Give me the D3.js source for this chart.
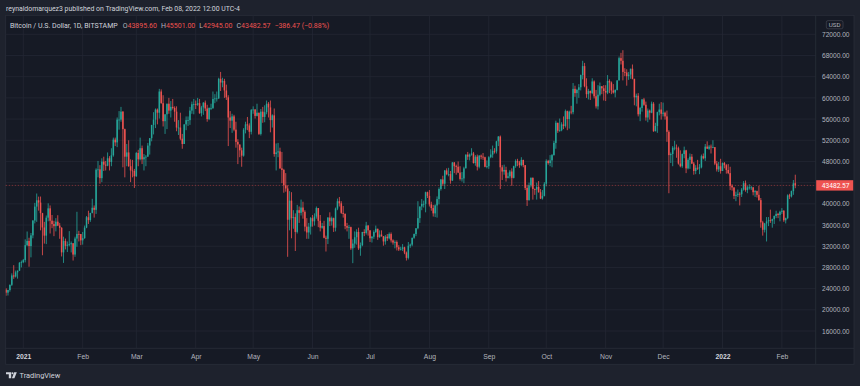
<!DOCTYPE html>
<html lang="en">
<head>
<meta charset="UTF-8">
<title>btcusd-1d</title>
<script src="https://cdn.jsdelivr.net/npm/d3@7"></script>
<style>
  body { margin: 0; background: #1e222d; }
  svg { display: block; font-family: Roboto, "Noto Sans", sans-serif; }
</style>
</head>
<body>
<script>
// daily bars from 2020-12-23 to 2022-02-08, prices in thousands of USD
const startDay = Date.UTC(2020, 11, 23);
const firstOpen = 23.82;
const closes = [
  23.24, 23.73, 24.71, 26.49, 26.28, 27.08, 27.39, 28.89, 28.99,
  29.38, 32.20, 33.00, 32.03, 34.05, 36.86, 39.48, 40.67, 40.24, 38.24, 35.54, 34.00, 37.39, 39.15, 36.82, 36.18, 35.79, 36.63, 35.90, 35.47, 30.84, 33.00, 32.08, 32.28, 32.37, 32.57, 30.43, 33.45, 34.32, 34.30, 33.11,
  33.53, 35.51, 37.47, 36.93, 38.29, 39.26, 38.87, 46.44, 46.50, 44.85, 47.97, 47.40, 47.20, 48.60, 47.90, 49.15, 52.12, 51.60, 55.90, 55.90, 57.40, 54.10, 48.90, 49.70, 47.10, 46.30, 46.20, 45.20,
  49.60, 48.40, 50.50, 48.40, 48.80, 48.90, 51.00, 52.40, 54.90, 55.90, 57.80, 57.20, 61.20, 59.00, 55.60, 56.90, 58.90, 57.60, 58.30, 58.10, 57.40, 54.40, 54.40, 52.30, 51.30, 55.00, 55.80, 55.80, 57.60, 58.80, 58.80,
  58.70, 59.00, 57.10, 58.20, 59.10, 58.00, 56.00, 58.10, 58.10, 59.80, 59.90, 59.90, 63.60, 62.90, 63.20, 61.40, 60.10, 56.30, 55.70, 56.50, 54.00, 51.70, 51.20, 50.10, 49.10, 54.00, 55.00, 54.80, 53.60, 57.70,
  57.80, 56.60, 57.20, 53.20, 57.40, 56.40, 57.30, 58.90, 58.20, 55.80, 56.70, 49.40, 49.70, 49.90, 46.70, 46.40, 43.50, 42.90, 37.00, 40.60, 37.30, 37.50, 34.70, 38.80, 38.30, 39.30, 38.50, 35.70, 34.60, 35.70, 37.30,
  36.70, 37.60, 39.20, 36.80, 35.50, 35.80, 33.60, 33.40, 37.40, 36.70, 37.30, 35.50, 39.10, 40.50, 40.10, 38.30, 38.10, 35.80, 35.50, 35.60, 31.60, 32.50, 33.70, 34.70, 31.60, 32.20, 34.70, 34.50, 35.90, 35.00,
  33.50, 33.80, 34.70, 35.30, 33.70, 34.20, 33.90, 32.90, 33.80, 33.50, 34.30, 33.10, 32.70, 32.80, 31.80, 31.40, 31.50, 31.80, 30.80, 29.80, 32.10, 32.30, 33.60, 34.30, 35.40, 37.30, 39.50, 40.00, 40.00, 42.20, 41.50,
  39.90, 39.20, 38.20, 39.70, 40.90, 42.80, 44.60, 43.80, 46.30, 45.60, 45.60, 44.40, 47.80, 47.10, 47.00, 45.90, 44.70, 44.80, 46.70, 49.30, 48.90, 49.30, 49.50, 47.70, 48.90, 47.00, 49.10, 48.90, 48.80, 47.00, 47.10,
  48.80, 49.30, 50.00, 49.90, 51.80, 52.70, 46.90, 46.10, 46.40, 44.90, 45.20, 46.10, 44.90, 47.10, 48.10, 47.80, 47.30, 48.30, 47.30, 43.00, 40.70, 43.50, 44.90, 42.80, 42.70, 43.20, 42.20, 41.00, 41.50, 43.80,
  48.10, 47.70, 48.20, 49.20, 51.50, 55.30, 53.80, 53.90, 55.00, 54.70, 57.50, 56.00, 57.40, 57.30, 61.70, 60.90, 61.50, 62.00, 64.30, 66.00, 62.20, 60.70, 61.30, 60.90, 63.10, 60.30, 58.40, 60.60, 62.20, 61.80, 61.30,
  61.00, 63.20, 62.90, 61.40, 61.00, 61.50, 63.30, 67.50, 67.00, 64.90, 64.80, 64.10, 64.40, 65.50, 63.60, 60.10, 60.40, 56.90, 58.10, 59.70, 58.70, 56.30, 57.60, 57.20, 58.90, 53.70, 54.70, 57.30, 57.80, 57.00,
  57.20, 56.50, 53.60, 49.20, 49.40, 50.60, 50.60, 50.50, 47.60, 47.10, 49.40, 50.10, 46.70, 48.30, 48.90, 47.60, 46.20, 46.80, 46.70, 46.90, 49.00, 48.60, 50.80, 50.40, 50.80, 50.70, 50.70, 47.60, 46.50, 47.10, 46.20,
  47.70, 47.30, 46.40, 45.80, 43.40, 43.10, 41.50, 41.70, 41.90, 41.80, 42.70, 43.90, 42.60, 43.10, 43.10, 43.10, 42.20, 42.40, 41.70, 40.70, 36.50, 35.10, 36.30, 36.70, 36.90, 36.80, 37.10, 37.70, 38.10, 37.90, 38.50,
  38.70, 36.90, 37.30, 41.60, 41.40, 42.40, 43.86904, 43.48257
];
const highs = [
  24.10, 23.79, 24.78, 26.88, 28.42, 27.41, 27.42, 28.99, 29.30,
  29.60, 33.30, 34.78, 33.60, 34.50, 36.90, 40.18, 41.95, 41.36, 41.38, 38.30, 36.60, 37.80, 40.10, 39.70, 37.90, 36.80, 37.30, 37.85, 36.40, 35.60, 33.80, 33.45, 32.90, 34.85, 32.90, 32.56, 33.80, 38.50, 34.90, 34.30,
  34.70, 35.90, 37.70, 38.70, 38.30, 40.95, 39.70, 46.70, 48.10, 47.30, 48.60, 48.90, 48.10, 49.70, 49.00, 50.50, 52.50, 52.50, 56.30, 57.50, 58.30, 57.50, 54.20, 51.30, 52.00, 48.40, 48.30, 46.60,
  49.80, 50.20, 52.50, 51.00, 49.40, 49.20, 51.50, 52.40, 54.90, 57.30, 58.00, 58.00, 61.70, 61.60, 60.50, 56.90, 58.90, 60.00, 59.40, 59.80, 58.40, 58.40, 55.80, 57.20, 53.20, 55.00, 56.50, 56.50, 58.30, 59.30, 59.80,
  59.50, 60.00, 59.80, 58.50, 59.20, 59.50, 58.70, 58.20, 58.90, 61.20, 60.70, 61.20, 63.80, 64.90, 63.80, 63.60, 62.50, 60.50, 57.50, 57.00, 56.80, 55.50, 52.20, 51.20, 50.60, 54.30, 55.50, 56.40, 55.20, 57.90,
  58.40, 57.90, 58.90, 57.20, 57.90, 58.30, 58.60, 59.50, 59.20, 59.50, 56.90, 58.00, 51.40, 51.50, 50.60, 49.80, 46.60, 45.80, 43.50, 42.40, 42.20, 38.80, 38.20, 39.80, 39.50, 40.80, 40.40, 38.80, 37.30, 36.40, 37.50,
  37.90, 38.20, 39.50, 39.20, 37.90, 36.40, 36.80, 34.00, 37.50, 38.40, 37.60, 37.40, 39.30, 41.00, 41.30, 40.50, 39.60, 38.20, 36.40, 36.00, 35.70, 33.30, 34.80, 35.20, 35.50, 32.70, 34.70, 35.20, 36.60, 36.00,
  35.00, 33.90, 35.00, 35.90, 35.30, 35.00, 35.00, 33.90, 34.10, 34.30, 34.60, 34.60, 33.30, 33.10, 33.10, 32.20, 31.90, 32.40, 31.90, 31.00, 32.80, 32.50, 33.60, 34.40, 35.40, 40.50, 39.50, 40.90, 40.60, 42.30, 42.30,
  42.60, 40.40, 39.80, 39.90, 41.40, 43.10, 44.70, 45.30, 46.40, 46.70, 46.80, 46.20, 47.90, 47.90, 47.40, 48.00, 47.10, 46.00, 47.00, 49.30, 49.80, 49.50, 50.50, 49.80, 49.20, 49.30, 49.20, 49.30, 49.60, 48.90, 48.20,
  49.00, 50.30, 51.00, 50.50, 51.90, 52.80, 52.90, 47.30, 47.40, 47.00, 45.90, 46.40, 46.70, 47.20, 48.40, 48.50, 48.10, 48.80, 48.30, 47.30, 43.60, 44.00, 45.00, 45.00, 42.90, 44.00, 44.30, 42.80, 42.60, 44.10,
  48.40, 48.30, 49.20, 49.40, 51.90, 55.70, 55.30, 56.10, 55.40, 56.50, 57.80, 57.60, 57.60, 58.50, 62.80, 62.30, 61.70, 62.60, 64.40, 67.00, 66.60, 63.70, 61.70, 61.40, 63.70, 63.30, 61.50, 62.40, 62.90, 62.20, 62.40,
  62.40, 64.30, 63.50, 63.10, 62.60, 61.60, 63.30, 67.80, 68.50, 69.00, 65.60, 65.40, 64.90, 65.50, 66.30, 63.60, 60.80, 60.90, 58.30, 59.80, 60.00, 59.30, 58.00, 57.80, 59.30, 59.20, 55.30, 57.40, 58.90, 59.20,
  59.10, 57.40, 57.60, 53.90, 49.70, 50.90, 51.90, 51.20, 50.80, 50.10, 49.50, 50.80, 50.20, 48.60, 49.50, 49.40, 47.90, 47.30, 48.30, 47.50, 49.30, 49.50, 51.30, 51.80, 51.10, 51.20, 52.00, 50.70, 48.10, 47.90, 48.50,
  47.80, 47.90, 47.50, 47.50, 47.00, 43.70, 43.10, 42.30, 42.70, 42.20, 43.00, 44.30, 44.40, 43.40, 43.70, 43.40, 43.20, 42.60, 42.50, 43.40, 41.10, 36.80, 36.40, 37.50, 37.50, 38.90, 37.20, 37.80, 38.70, 38.30, 38.70,
  39.20, 38.80, 37.40, 41.80, 41.90, 42.50, 44.50, 45.501
];
const lows = [
  22.65, 22.70, 23.42, 24.50, 25.85, 26.10, 25.88, 27.34, 28.00,
  28.80, 28.95, 32.00, 28.13, 29.90, 33.50, 36.30, 36.60, 38.72, 35.00, 30.30, 32.50, 32.40, 36.70, 34.40, 35.40, 33.90, 34.80, 35.80, 33.40, 30.07, 28.85, 31.40, 30.90, 31.98, 30.83, 29.30, 30.00, 31.90, 32.90, 32.20,
  32.30, 33.40, 35.40, 36.20, 36.60, 38.20, 37.40, 38.10, 45.00, 43.80, 44.10, 46.20, 46.30, 47.10, 46.30, 47.10, 48.90, 50.90, 50.70, 54.00, 55.50, 46.90, 45.00, 47.10, 47.00, 44.10, 45.00, 43.00,
  45.10, 47.10, 48.20, 47.50, 46.30, 47.10, 48.90, 49.30, 51.80, 53.10, 54.30, 55.00, 56.10, 58.90, 54.60, 53.20, 54.10, 57.00, 56.30, 57.80, 55.50, 53.70, 53.00, 52.00, 50.40, 51.30, 53.90, 54.70, 54.90, 57.00, 56.90,
  57.90, 58.50, 57.00, 56.50, 56.80, 57.50, 55.50, 55.80, 57.70, 57.90, 59.00, 59.30, 59.80, 61.30, 62.00, 60.00, 59.60, 50.90, 54.30, 53.40, 53.70, 50.60, 47.50, 48.80, 47.00, 48.90, 53.30, 53.90, 52.40, 53.10,
  57.00, 56.10, 56.50, 53.00, 52.90, 55.30, 55.40, 56.90, 56.30, 53.50, 54.40, 48.90, 46.30, 48.80, 46.60, 43.90, 42.10, 42.30, 30.00, 35.00, 33.50, 35.30, 31.10, 34.40, 36.40, 37.80, 37.20, 34.80, 33.40, 33.40, 34.20,
  35.70, 35.90, 37.20, 35.60, 34.80, 35.30, 33.50, 31.00, 32.40, 35.80, 35.90, 34.70, 34.80, 38.80, 39.50, 38.10, 37.40, 35.20, 34.80, 33.40, 31.30, 28.80, 31.70, 32.30, 31.30, 30.20, 32.00, 33.90, 34.20, 34.00,
  32.80, 32.70, 33.40, 34.50, 33.20, 33.60, 33.80, 32.10, 32.30, 33.00, 33.30, 32.70, 32.30, 31.60, 31.20, 31.10, 31.20, 31.10, 30.50, 29.30, 29.50, 31.70, 32.00, 33.40, 33.90, 35.20, 36.40, 38.80, 39.30, 38.40, 41.10,
  39.50, 38.70, 37.60, 37.50, 37.40, 39.90, 42.50, 43.40, 42.80, 45.40, 45.20, 43.80, 44.30, 45.80, 45.50, 45.80, 44.40, 44.20, 43.90, 46.70, 48.30, 48.20, 49.10, 47.60, 47.20, 46.30, 46.70, 48.40, 48.30, 46.90, 46.70,
  46.60, 48.60, 48.70, 49.50, 49.50, 50.90, 42.80, 44.50, 45.50, 44.20, 44.80, 44.80, 43.40, 44.80, 46.80, 47.10, 46.80, 47.10, 46.90, 42.60, 39.60, 40.60, 43.10, 40.80, 41.70, 40.80, 42.10, 40.90, 40.80, 41.40,
  43.30, 47.40, 47.10, 46.90, 49.10, 50.40, 53.40, 53.60, 53.70, 54.10, 54.40, 53.90, 54.20, 56.90, 56.90, 60.20, 58.90, 60.00, 61.40, 63.50, 62.00, 60.00, 59.70, 59.60, 60.70, 59.90, 58.00, 57.80, 60.30, 60.70, 59.50,
  59.40, 60.70, 60.90, 60.70, 60.80, 60.10, 61.40, 63.30, 66.30, 63.30, 64.10, 62.30, 63.40, 63.60, 63.50, 58.60, 58.40, 56.50, 55.60, 57.40, 58.50, 55.70, 55.40, 55.90, 57.10, 53.60, 53.70, 53.40, 56.70, 55.90,
  56.50, 55.90, 51.70, 42.00, 47.70, 47.10, 50.10, 48.70, 47.40, 46.90, 46.80, 48.60, 45.80, 46.50, 46.60, 47.50, 45.50, 45.60, 46.40, 45.60, 46.70, 48.40, 48.10, 50.40, 50.20, 49.50, 50.50, 47.30, 46.10, 46.00, 45.70,
  46.20, 46.70, 45.70, 45.60, 42.60, 42.50, 40.90, 40.50, 41.30, 39.70, 41.30, 42.50, 42.30, 42.00, 42.70, 42.60, 41.60, 41.30, 41.20, 40.60, 35.50, 34.00, 34.60, 32.90, 35.80, 36.40, 35.50, 36.20, 37.30, 37.30, 36.70,
  38.10, 36.60, 36.30, 37.10, 40.90, 41.20, 41.70, 42.945
];
// open of the last bar differs from the previous close (Bitstamp)
const lastOpen = 43.8956;

const priceTicks = [16000, 20000, 24000, 28000, 32000, 36000, 40000, 44000, 48000, 52000, 56000, 60000, 64000, 68000, 72000];
const monthStarts = ['2021-01-01', '2021-02-01', '2021-03-01', '2021-04-01', '2021-05-01', '2021-06-01', '2021-07-01',
  '2021-08-01', '2021-09-01', '2021-10-01', '2021-11-01', '2021-12-01', '2022-01-01', '2022-02-01'];
const monthLabels = ['2021', 'Feb', 'Mar', 'Apr', 'May', 'Jun', 'Jul', 'Aug', 'Sep', 'Oct', 'Nov', 'Dec', '2022', 'Feb'];

let width = 860;
let height = 386;
let plot = { left: 5.7, right: 815.7, top: 15.3, bottom: 348.3 };
let axisRight = 854;
let timeBottom = 364.3;

let green = '#26a69a';
let red = '#ef5350';
let textColor = '#b2b5be';
let gridColor = '#232734';
let lineColor = '#2a2e39';

const day = 86400000;
let bars = closes.map(function (c, i) {
  let o = i === 0 ? firstOpen : (i === closes.length - 1 ? lastOpen : closes[i - 1]);
  return {
    date: new Date(startDay + i * day),
    o: o * 1000, h: highs[i] * 1000, l: lows[i] * 1000, c: c * 1000
  };
});

let x = d3.scaleUtc()
  .domain([new Date(Date.UTC(2021, 0, 1)), new Date(Date.UTC(2022, 0, 1))])
  .range([23.3, 722.5]);
let y = d3.scaleLinear()
  .domain([16000, 72000])
  .range([331, 34.3]);

let svg = d3.select('body').append('svg')
  .attr('width', width)
  .attr('height', height);

svg.append('rect')
  .attr('width', width).attr('height', height)
  .attr('fill', '#1e222d');

// chart panel
svg.append('rect')
  .attr('x', plot.left).attr('y', plot.top)
  .attr('width', axisRight - plot.left).attr('height', timeBottom - plot.top)
  .attr('fill', '#161a25')
  .attr('stroke', lineColor).attr('stroke-width', 0.8);

svg.append('defs').append('clipPath').attr('id', 'plot-clip')
  .append('rect')
  .attr('x', plot.left).attr('y', plot.top)
  .attr('width', plot.right - plot.left).attr('height', plot.bottom - plot.top);

// grid
let grid = svg.append('g').attr('clip-path', 'url(#plot-clip)');
grid.selectAll('.hgrid').data(priceTicks).enter().append('line')
  .attr('x1', plot.left).attr('x2', plot.right)
  .attr('y1', function (d) { return y(d); })
  .attr('y2', function (d) { return y(d); })
  .attr('stroke', gridColor).attr('stroke-width', 0.8);
grid.selectAll('.vgrid').data(monthStarts).enter().append('line')
  .attr('x1', function (d) { return x(new Date(d)); })
  .attr('x2', function (d) { return x(new Date(d)); })
  .attr('y1', plot.top).attr('y2', plot.bottom)
  .attr('stroke', gridColor).attr('stroke-width', 0.8);

// candles
let candles = svg.append('g').attr('clip-path', 'url(#plot-clip)');
let bodyW = 1.5;
let cg = candles.selectAll('g.bar').data(bars).enter().append('g')
  .attr('fill', function (d) { return d.c >= d.o ? green : red; })
  .attr('stroke', function (d) { return d.c >= d.o ? green : red; });
cg.append('line')
  .attr('x1', function (d) { return x(d.date); })
  .attr('x2', function (d) { return x(d.date); })
  .attr('y1', function (d) { return y(Math.max(d.h, d.o, d.c)); })
  .attr('y2', function (d) { return y(Math.min(d.l, d.o, d.c)); })
  .attr('stroke-width', 0.8);
cg.append('rect')
  .attr('stroke', 'none')
  .attr('x', function (d) { return x(d.date) - bodyW / 2; })
  .attr('width', bodyW)
  .attr('y', function (d) { return y(Math.max(d.o, d.c)); })
  .attr('height', function (d) { return Math.max(0.8, Math.abs(y(d.o) - y(d.c))); });

// last price line
let last = bars[bars.length - 1];
let prev = bars[bars.length - 2];
svg.append('line')
  .attr('x1', plot.left).attr('x2', plot.right)
  .attr('y1', y(last.c)).attr('y2', y(last.c))
  .attr('stroke', red).attr('stroke-opacity', 0.55)
  .attr('stroke-width', 0.8).attr('stroke-dasharray', '1.5,1.5');

// price axis
svg.append('line')
  .attr('x1', plot.right).attr('x2', plot.right)
  .attr('y1', plot.top).attr('y2', timeBottom)
  .attr('stroke', lineColor).attr('stroke-width', 0.8);

let yAxis = d3.axisRight(y)
  .tickValues(priceTicks.filter(function (d) { return Math.abs(y(d) - y(last.c)) > 8; }))
  .tickSize(0)
  .tickPadding(0)
  .tickFormat(function (d) { return d3.format('.2f')(d); });
let ya = svg.append('g')
  .attr('transform', 'translate(' + 849.5 + ',0)')
  .call(yAxis);
ya.select('.domain').remove();
ya.selectAll('text')
  .attr('text-anchor', 'end')
  .attr('fill', textColor)
  .style('font-size', '6.6px');

// USD badge
svg.append('rect')
  .attr('x', 826.3).attr('y', 20.6).attr('width', 16.7).attr('height', 8.2)
  .attr('rx', 1.8)
  .attr('fill', 'none').attr('stroke', '#434651').attr('stroke-width', 0.7);
svg.append('text')
  .attr('x', 834.6).attr('y', 27)
  .attr('text-anchor', 'middle')
  .attr('fill', textColor)
  .style('font-size', '6.2px')
  .text('USD');

// last price label
svg.append('rect')
  .attr('x', plot.right + 0.5).attr('y', y(last.c) - 5.2)
  .attr('width', 37).attr('height', 10.4)
  .attr('fill', red);
svg.append('text')
  .attr('x', 849.5).attr('y', y(last.c) + 2.4)
  .attr('text-anchor', 'end')
  .attr('fill', '#ffffff')
  .style('font-size', '6.6px')
  .text(d3.format('.2f')(last.c));

// time axis
svg.append('line')
  .attr('x1', plot.left).attr('x2', axisRight)
  .attr('y1', plot.bottom).attr('y2', plot.bottom)
  .attr('stroke', lineColor).attr('stroke-width', 0.8);

let xAxis = d3.axisBottom(x)
  .tickValues(monthStarts.map(function (d) { return new Date(d); }))
  .tickSize(0)
  .tickPadding(0)
  .tickFormat(function (d, i) { return monthLabels[i]; });
let xa = svg.append('g')
  .attr('transform', 'translate(0,' + 354.3 + ')')
  .call(xAxis);
xa.select('.domain').remove();
xa.selectAll('text')
  .attr('fill', function (d, i) { return isNaN(+monthLabels[i]) ? textColor : '#d1d4dc'; })
  .style('font-weight', function (d, i) { return isNaN(+monthLabels[i]) ? 'normal' : 'bold'; })
  .style('font-size', '6.8px');

// header
svg.append('text')
  .attr('x', 6).attr('y', 11.3)
  .attr('fill', '#d1d4dc')
  .style('font-size', '6.9px')
  .text('reynaldomarquez3 published on TradingView.com, Feb 08, 2022 12:00 UTC-4');

// legend
let fmt = d3.format('.2f');
let change = last.c - prev.c;
let legend = svg.append('text')
  .attr('x', 10).attr('y', 27.6)
  .style('font-size', '7px');
legend.append('tspan').attr('fill', '#d1d4dc').text('Bitcoin / U.S. Dollar, 1D, BITSTAMP');
[['O', last.o], ['H', last.h], ['L', last.l], ['C', last.c]].forEach(function (p, i) {
  legend.append('tspan').attr('dx', i === 0 ? 5 : 4).attr('fill', textColor).text(p[0]);
  legend.append('tspan').attr('fill', red).text(fmt(p[1]));
});
legend.append('tspan').attr('dx', 4).attr('fill', red)
  .text(fmt(change) + ' (' + fmt(change / prev.c * 100) + '%)');

// footer logo
let logo = svg.append('g').attr('fill', '#d1d4dc');
logo.append('path').attr('d', 'M6,372.3 H11.2 V378.2 H8.8 V374.2 H6 Z');
logo.append('circle').attr('cx', 12.5).attr('cy', 373.3).attr('r', 1);
logo.append('path').attr('d', 'M14.2,372.3 H16.8 L14.4,378.2 H11.9 Z');
svg.append('text')
  .attr('x', 19.6).attr('y', 378)
  .attr('fill', '#d1d4dc')
  .style('font-size', '7.4px')
  .text('TradingView');
</script>
</body>
</html>
